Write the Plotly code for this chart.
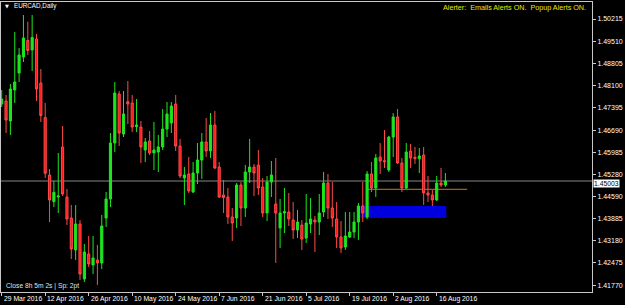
import plotly.graph_objects as go
import pandas as pd

# ---------------- data ----------------
dates = pd.bdate_range("2016-03-29", "2016-08-18")

open_ = [1.47518, 1.47613, 1.46979, 1.47962, 1.48502, 1.49009, 1.49533, 1.49232, 1.49581, 1.48185,
         1.47090, 1.45266, 1.44418, 1.44568, 1.46154, 1.44568, 1.43901, 1.42886, 1.43711, 1.41966,
         1.42759, 1.42410, 1.42569, 1.42474, 1.43901, 1.44504, 1.46281, 1.47836, 1.46566, 1.47591,
         1.47550, 1.46798, 1.46788, 1.46059, 1.46344, 1.45964, 1.45995, 1.46154, 1.46725, 1.46916,
         1.47518, 1.46186, 1.45170, 1.45297, 1.44726, 1.45329, 1.45741, 1.46313, 1.46027, 1.46852,
         1.45519, 1.44631, 1.44568, 1.43933, 1.43901, 1.44948, 1.44218, 1.45361, 1.45519, 1.45583,
         1.44885, 1.44060, 1.45043, 1.44345, 1.43584, 1.44060, 1.44091, 1.43838, 1.43520, 1.43679,
         1.43266, 1.43711, 1.43838, 1.43774, 1.44091, 1.45012, 1.44218, 1.43870, 1.43298, 1.42981,
         1.43298, 1.43457, 1.43774, 1.44282, 1.43933, 1.45297, 1.44853, 1.45837, 1.45719, 1.45424,
         1.46471, 1.47106, 1.45646, 1.44853, 1.46027, 1.45827, 1.45783, 1.45900, 1.44695, 1.44631,
         1.44472, 1.45012, 1.44948]
high = [1.47962, 1.47804, 1.48153, 1.49803, 1.49295, 1.50342, 1.50129, 1.50342, 1.49739, 1.48629,
        1.47550, 1.45456, 1.45075, 1.45964, 1.46820, 1.44821, 1.44314, 1.44314, 1.43838, 1.43076,
        1.43330, 1.43330, 1.43044, 1.43996, 1.44726, 1.46598, 1.48217, 1.47931, 1.47931, 1.48248,
        1.47804, 1.47677, 1.46979, 1.46440, 1.46661, 1.46947, 1.46535, 1.47360, 1.47582, 1.47582,
        1.47804, 1.46408, 1.45519, 1.45837, 1.45678, 1.46281, 1.46598, 1.47074, 1.47233, 1.47296,
        1.45678, 1.45107, 1.44853, 1.44218, 1.45012, 1.45043, 1.45583, 1.46408, 1.45615, 1.46059,
        1.45170, 1.45234, 1.45710, 1.45805, 1.44504, 1.44853, 1.44695, 1.44409, 1.44155, 1.43838,
        1.44663, 1.44536, 1.43965, 1.44663, 1.45361, 1.45297, 1.45043, 1.44409, 1.43806, 1.44092,
        1.44092, 1.44092, 1.44377, 1.45043, 1.45392, 1.45678, 1.45932, 1.46281, 1.46693, 1.46503,
        1.47233, 1.47360, 1.45805, 1.46281, 1.46249, 1.46154, 1.46122, 1.46154, 1.45234, 1.44790,
        1.45234, 1.45488, 1.45329]
low = [1.47423, 1.46598, 1.46535, 1.47550, 1.48217, 1.48851, 1.49073, 1.48565, 1.47613, 1.46947,
       1.45170, 1.43774, 1.44250, 1.44060, 1.44599, 1.43679, 1.42600, 1.42569, 1.41934, 1.41871,
       1.42347, 1.42124, 1.41775, 1.42283, 1.43615, 1.44250, 1.45995, 1.46186, 1.46471, 1.46884,
       1.46630, 1.46630, 1.45646, 1.45678, 1.45900, 1.45424, 1.45361, 1.46059, 1.46471, 1.46598,
       1.46027, 1.45170, 1.44314, 1.44695, 1.44695, 1.44980, 1.45139, 1.45837, 1.45805, 1.45456,
       1.44536, 1.44060, 1.43711, 1.43171, 1.43584, 1.43647, 1.43933, 1.45012, 1.44599, 1.44631,
       1.43933, 1.43806, 1.44568, 1.42474, 1.42950, 1.43425, 1.43647, 1.43235, 1.43266, 1.42886,
       1.43108, 1.43425, 1.42823, 1.43362, 1.43933, 1.43870, 1.43615, 1.42950, 1.42791, 1.42886,
       1.43266, 1.43266, 1.43203, 1.43774, 1.43870, 1.44726, 1.44568, 1.45297, 1.45488, 1.45361,
       1.45837, 1.45615, 1.44726, 1.44821, 1.45488, 1.45615, 1.45329, 1.44314, 1.44409, 1.44282,
       1.44441, 1.44885, 1.44885]
close = [1.47676, 1.47011, 1.47994, 1.48217, 1.49073, 1.49612, 1.49216, 1.49628, 1.47994, 1.47153,
         1.45320, 1.44472, 1.44717, 1.44599, 1.44663, 1.43870, 1.42918, 1.43711, 1.42124, 1.42823,
         1.42442, 1.42632, 1.42474, 1.43647, 1.44504, 1.46281, 1.47867, 1.46598, 1.47201, 1.47518,
         1.46788, 1.46852, 1.46154, 1.46313, 1.45964, 1.46059, 1.46154, 1.46725, 1.47201, 1.47455,
         1.46186, 1.45234, 1.45266, 1.44758, 1.45329, 1.45741, 1.46313, 1.46027, 1.46852, 1.45488,
         1.44568, 1.44552, 1.43933, 1.43742, 1.44948, 1.44218, 1.45361, 1.45519, 1.45329, 1.44853,
         1.44060, 1.45043, 1.45266, 1.44060, 1.44060, 1.44101, 1.43870, 1.43520, 1.43774, 1.43235,
         1.43742, 1.43870, 1.43774, 1.44060, 1.45012, 1.44218, 1.43901, 1.43298, 1.42950, 1.43330,
         1.43457, 1.43774, 1.44282, 1.44060, 1.45297, 1.44853, 1.45805, 1.45710, 1.45687, 1.46471,
         1.47106, 1.45646, 1.44853, 1.45995, 1.45805, 1.45783, 1.45868, 1.44695, 1.44631, 1.44472,
         1.45012, 1.44948, 1.45075]

tick_labels = ["29 Mar 2016", "12 Apr 2016", "26 Apr 2016", "10 May 2016", "24 May 2016",
               "7 Jun 2016", "21 Jun 2016", "5 Jul 2016", "19 Jul 2016", "2 Aug 2016", "16 Aug 2016"]
y_ticks = [1.50215, 1.49510, 1.48805, 1.48100, 1.47395, 1.46690, 1.45985, 1.45280,
           1.44590, 1.43885, 1.43180, 1.42475, 1.41770]
current_price_text = "1.45003"

zone_top, zone_bottom = 1.44282, 1.43902
zone_from, zone_to = 82.5, 102.2
level_price = 1.44812
level_from, level_to = 84.0, 107.0

title_text = "EURCAD,Daily"
alert_text = "Alerter:  Emails Alerts ON.  Popup Alerts ON."
status_text = "Close 8h 5m 2s | Sp: 2pt"

# ---------------- figure ----------------
x = list(range(len(dates)))
label_dates = [pd.Timestamp(pd.to_datetime(t, format="%d %b %Y")) for t in tick_labels]
tick_pos = [list(dates).index(d) for d in label_dates]

FONT = "Liberation Sans"
W, H = 625, 305
ML, MR, MT, MB = 1, 33, 2, 13
PW, PH = W - ML - MR, H - MT - MB

fig = go.Figure()
fig.add_trace(go.Candlestick(
    x=x, open=open_, high=high, low=low, close=close,
    increasing=dict(line=dict(color="#1ee61e", width=1), fillcolor="#1ee61e"),
    decreasing=dict(line=dict(color="#ff4a4a", width=1), fillcolor="#ff1414"),
    whiskerwidth=0, hoverinfo="skip",
))

shapes = [
    dict(type="line", xref="paper", yref="y", x0=0, x1=1, y0=close[-1], y1=close[-1],
         line=dict(color="#5a5a5a", width=1.5), layer="below"),
    dict(type="rect", xref="x", yref="y", x0=zone_from, x1=zone_to, y0=zone_bottom, y1=zone_top,
         fillcolor="#0000dc", line=dict(width=0), layer="below"),
    dict(type="line", xref="x", yref="y", x0=level_from, x1=level_to, y0=level_price, y1=level_price,
         line=dict(color="#d07818", width=1), layer="below"),
]

def px_x(px):
    return (px - ML) / PW

def px_y(py):
    return (H - MB - py) / PH

annotations = []
for pos, lab in zip(tick_pos, tick_labels):
    annotations.append(dict(x=pos, y=0, xref="x", yref="paper", text=lab, showarrow=False,
                            xanchor="left", yanchor="top", xshift=0, yshift=-1,
                            font=dict(family=FONT, size=6.8, color="#ffffff")))
annotations += [
    dict(x=1, y=close[-1], xref="paper", yref="y", text=current_price_text, showarrow=False,
         xanchor="left", yanchor="middle", xshift=1, yshift=-2, bgcolor="#ffffff", borderpad=0,
         font=dict(family=FONT, size=6.8, color="#000000")),
    dict(x=px_x(3), y=px_y(6.5), xref="paper", yref="paper", text="▼", showarrow=False,
         xanchor="left", yanchor="middle", font=dict(family="DejaVu Sans", size=5, color="#ffffff")),
    dict(x=px_x(11.5), y=px_y(6.5), xref="paper", yref="paper", text=title_text, showarrow=False,
         xanchor="left", yanchor="middle", font=dict(family=FONT, size=6.3, color="#ffffff")),
    dict(x=px_x(588), y=px_y(7), xref="paper", yref="paper", text=alert_text, showarrow=False,
         xanchor="right", yanchor="middle", font=dict(family=FONT, size=7.2, color="#e8e800")),
    dict(x=px_x(4), y=px_y(285.5), xref="paper", yref="paper", text=status_text, showarrow=False,
         xanchor="left", yanchor="middle", font=dict(family=FONT, size=6.7, color="#dce6f5")),
]

y_lo = 1.508178 - 0.00031728 * (H - MB)
y_hi = 1.508178 - 0.00031728 * MT
x_lo = (ML - 1.7) / 4.35
x_hi = (W - MR - 1.7) / 4.35

fig.update_layout(
    width=W, height=H, margin=dict(l=ML, r=MR, t=MT, b=MB, pad=0),
    paper_bgcolor="#000000", plot_bgcolor="#000000", showlegend=False,
    boxgap=0.3,
    shapes=shapes, annotations=annotations,
    xaxis=dict(range=[x_lo, x_hi], showgrid=False, zeroline=False, showline=True, mirror=True,
               linecolor="#c8c8c8", linewidth=1, ticks="outside", ticklen=3, tickcolor="#c8c8c8",
               tickvals=tick_pos, showticklabels=False, rangeslider=dict(visible=False),
               fixedrange=True),
    yaxis=dict(range=[y_lo, y_hi], side="right", showgrid=False, zeroline=False, showline=True,
               mirror=True, linecolor="#c8c8c8", linewidth=1, ticks="outside", ticklen=3,
               tickcolor="#c8c8c8", tickvals=y_ticks, ticktext=[f"{v:.5f}" for v in y_ticks],
               tickfont=dict(family=FONT, size=7, color="#ffffff"), fixedrange=True),
)

fig.write_html("out.html")
